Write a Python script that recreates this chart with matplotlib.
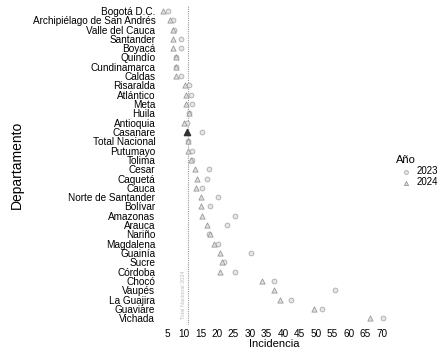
import matplotlib.pyplot as plt

plt.rcParams['font.family'] = ['Liberation Sans', 'DejaVu Sans']

departamentos = ['Bogotá D.C.', 'Archipiélago de San Andrés', 'Valle del Cauca', 'Santander',
                 'Boyacá', 'Quindío', 'Cundinamarca', 'Caldas', 'Risaralda', 'Atlántico',
                 'Meta', 'Huila', 'Antioquia', 'Casanare', 'Total Nacional', 'Putumayo',
                 'Tolima', 'Cesar', 'Caquetá', 'Cauca', 'Norte de Santander', 'Bolívar',
                 'Amazonas', 'Arauca', 'Nariño', 'Magdalena', 'Guainía', 'Sucre', 'Córdoba',
                 'Chocó', 'Vaupés', 'La Guajira', 'Guaviare', 'Vichada']

inc_2023 = [5.0, 6.5, 7.0, 9.0, 9.0, 7.4, 7.4, 9.0, 11.6, 12.0,
            12.3, 11.6, 11.0, 15.3, 11.3, 12.3, 12.5, 17.4, 17.0, 15.3,
            20.4, 18.0, 25.5, 23.0, 17.4, 20.4, 30.4, 22.0, 25.5, 37.3,
            55.7, 42.5, 52.0, 70.5]
inc_2024 = [3.5, 5.6, 6.5, 6.5, 6.5, 7.4, 7.4, 7.4, 10.4, 10.7,
            10.7, 11.6, 9.8, 11.0, 11.3, 11.3, 12.0, 13.2, 13.8, 13.5,
            15.0, 15.0, 15.3, 17.0, 18.0, 19.2, 21.0, 21.6, 21.0, 33.7,
            37.3, 39.0, 49.4, 66.6]
total_nacional = 11.3
x_ticks = list(range(5, 75, 5))

fig, ax = plt.subplots(figsize=(4.43, 3.53), dpi=100)
fig.subplots_adjust(left=0.36, right=0.88, top=0.985, bottom=0.08)

y = list(range(len(departamentos)))
ax.axvline(total_nacional, color='#999999', lw=0.8, ls=(0, (1, 1)), zorder=1)
ax.scatter(inc_2023, y, marker='o', s=12, facecolor='#e6e6e6', edgecolor='#aaaaaa',
           linewidth=0.6, label='2023', zorder=3)
ax.scatter(inc_2024, y, marker='^', s=14, facecolor='#e0e0e0', edgecolor='#999999',
           linewidth=0.6, label='2024', zorder=3)
# Casanare 2024 resaltado
ci = departamentos.index('Casanare')
ax.scatter([inc_2024[ci]], [ci], marker='^', s=20, color='#333333', zorder=4)

ax.text(total_nacional - 0.8, 30.5, 'Total Nacional 2024', rotation=90, fontsize=4,
        color='#bbbbbb', ha='right', va='center')

ax.set_yticks(y)
ax.set_yticklabels(departamentos, fontsize=7.2)
ax.set_ylim(len(departamentos) - 0.3, -0.6)
ax.set_xticks(x_ticks)
ax.set_xticklabels([str(t) for t in x_ticks], fontsize=7.2)
ax.set_xlim(2.5, 72.5)
ax.tick_params(length=0, pad=3)
for s in ax.spines.values():
    s.set_visible(False)

ax.set_xlabel('Incidencia', fontsize=8, labelpad=0)
ax.set_ylabel('Departamento', fontsize=10, labelpad=6)

leg = ax.legend(title='Año', loc='center left', bbox_to_anchor=(0.99, 0.48),
                frameon=False, fontsize=7, title_fontsize=8, handletextpad=0.1,
                markerscale=0.8, labelspacing=0.1, alignment='left')

plt.savefig('out.png', dpi=100)
